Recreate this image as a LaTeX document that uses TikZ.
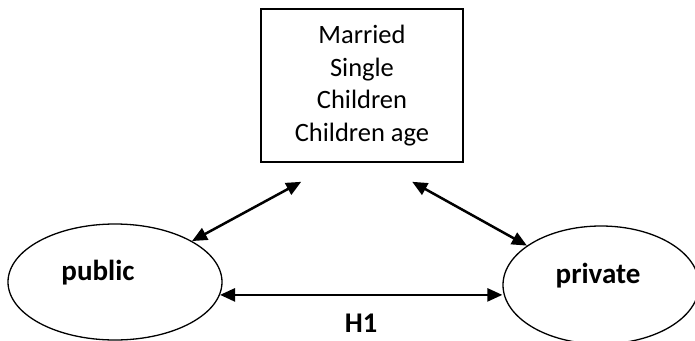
\documentclass[tikz,border=0pt]{standalone}
\usepackage{fontspec}
\setmainfont{Carlito}
\usetikzlibrary{arrows.meta,shapes.geometric}

\begin{document}
\begin{tikzpicture}[x=1pt,y=-1pt,
  groupbox/.style={draw, line width=1.6pt, minimum width=202pt, minimum height=153pt,
    align=center, font=\fontsize{26.5}{32.5}\selectfont},
  sector/.style={draw, ellipse, line width=1.3pt, inner sep=0pt},
  sectorname/.style={font=\fontsize{29}{34}\selectfont\bfseries},
  link/.style={line width=2.5pt, {Triangle[length=15pt,width=13pt]}-{Triangle[length=15pt,width=13pt]}}]
  \useasboundingbox (0,0) rectangle (695,340);

  \node[groupbox] (status) at (362,85.5) {Married\\Single\\Children\\Children age};

  \node[sector, minimum width=214pt, minimum height=116pt] (public) at (115,282) {};
  \node[sectorname] (publictxt) at ([xshift=-17pt,yshift=9pt]public.center) {public};
  \node[sector, minimum width=196pt, minimum height=118pt] (private) at (601,285) {};
  \node[sectorname] (privatetxt) at ([xshift=-3pt,yshift=9pt]private.center) {private};

  % free ends under the box
  \coordinate (statusL) at ([xshift=41pt,yshift=-19pt]status.south west);
  \coordinate (statusR) at ([xshift=152pt,yshift=-19pt]status.south west);

  \draw[link] (public.28) -- (statusL);
  \draw[link] (statusR) -- (private.152);
  \draw[link] (public.-7) -- node[below=15pt, font=\fontsize{28.5}{34}\selectfont\bfseries] (h1) {H1} (public.-7 -| private.west);
\end{tikzpicture}
\end{document}
